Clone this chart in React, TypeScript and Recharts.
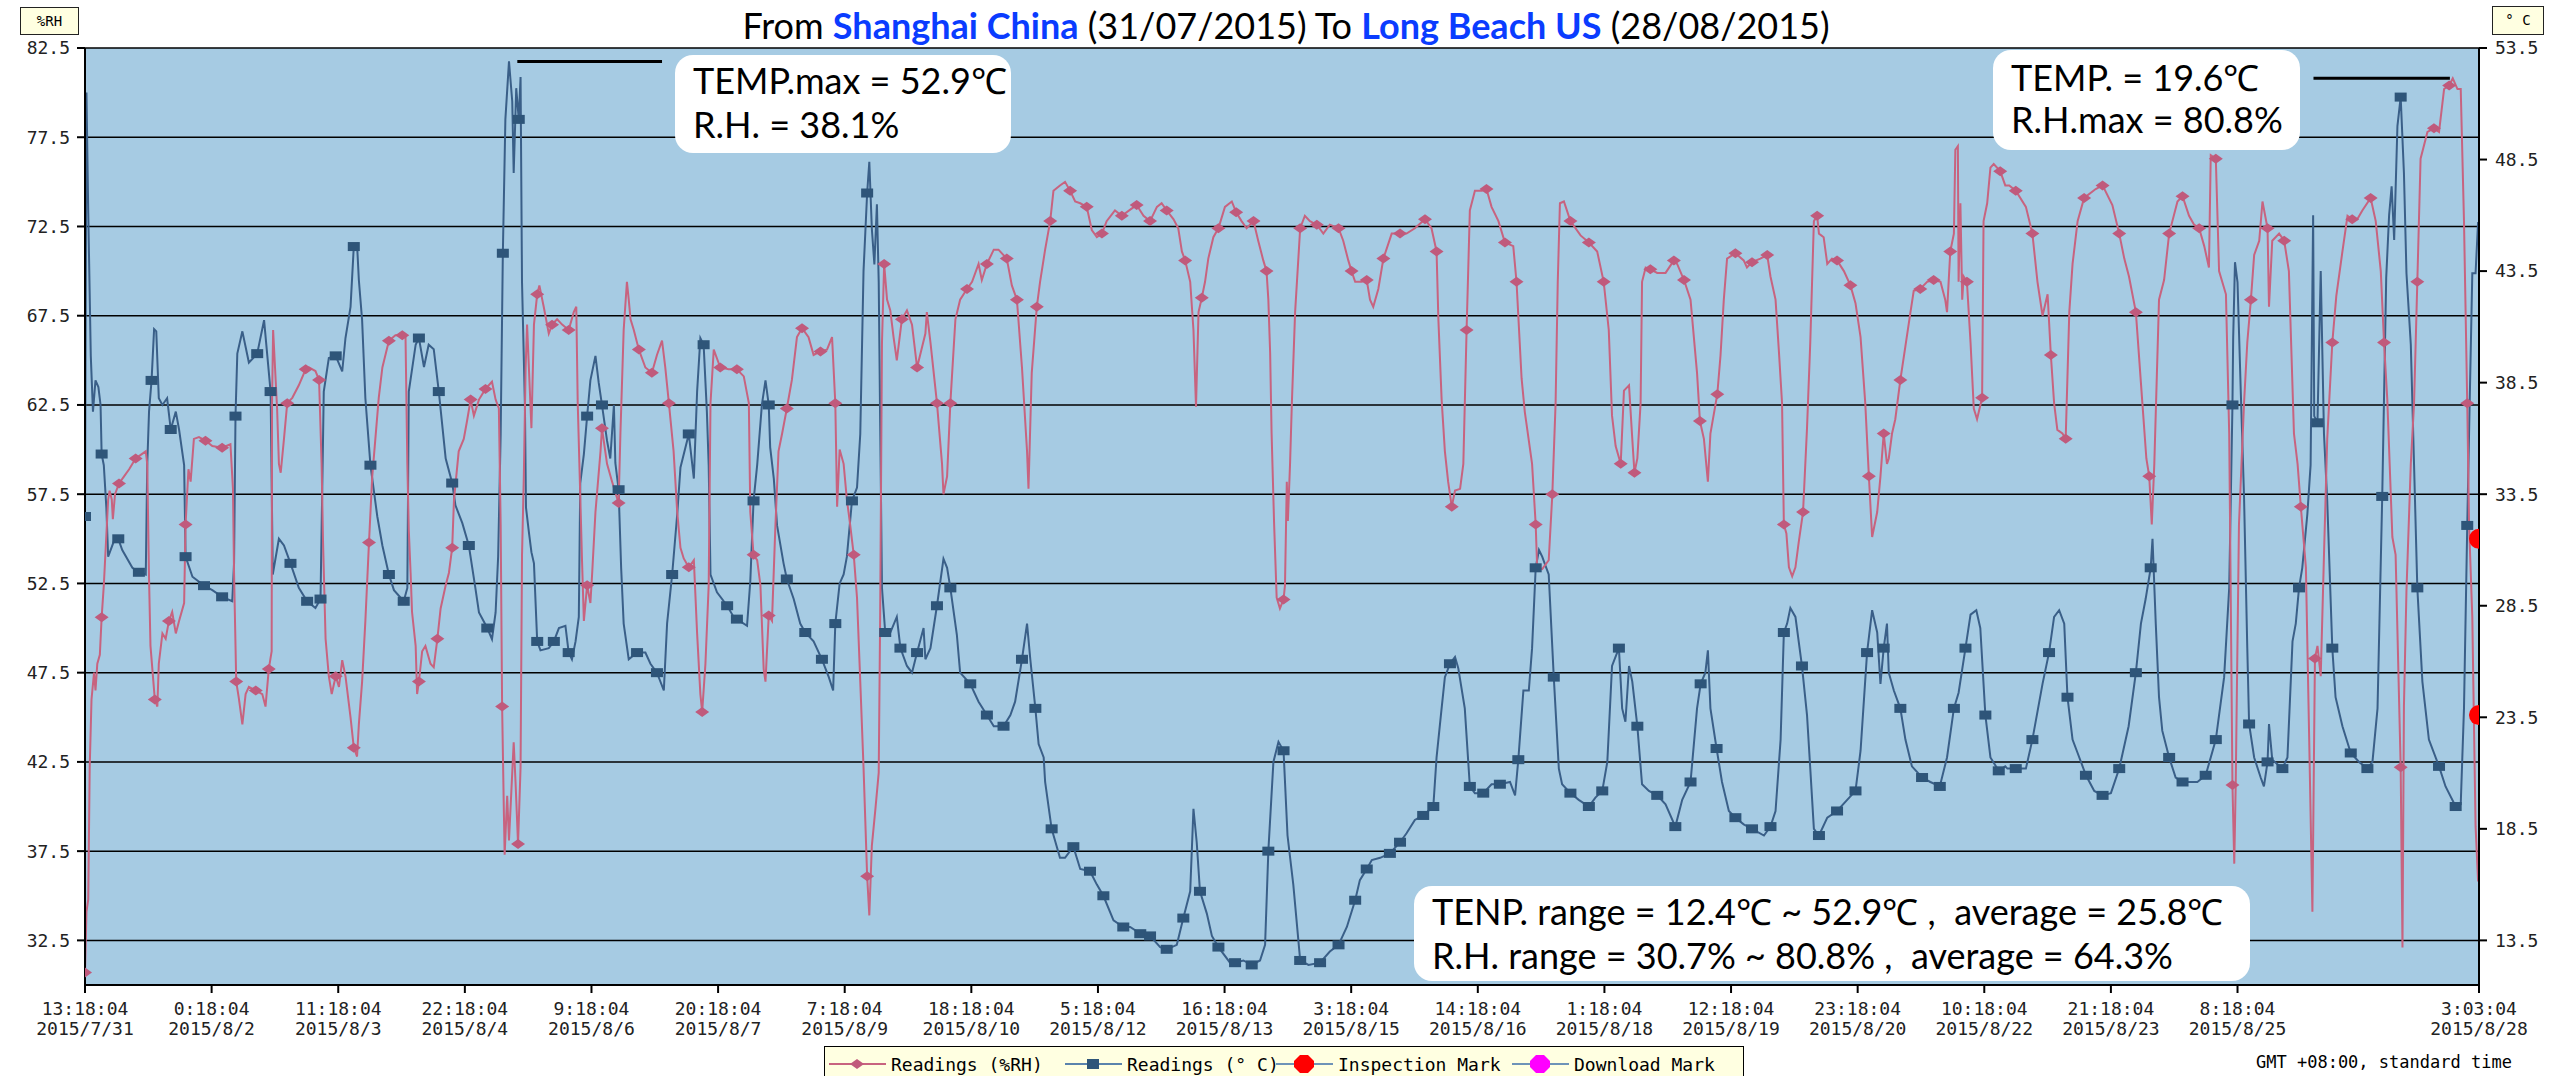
import React from "react";
import {
  ComposedChart,
  Line,
  XAxis,
  YAxis,
  CartesianGrid,
  ReferenceLine,
  Scatter,
} from "recharts";

// x axis: hours since 2015/7/31 13:18:04
const tickHours = [0, 35, 70, 105, 140, 175, 210, 245, 280, 315, 350, 385, 420, 455, 490, 525, 560, 595, 661.75];
const tickTimes = ["13:18:04", "0:18:04", "11:18:04", "22:18:04", "9:18:04", "20:18:04", "7:18:04", "18:18:04", "5:18:04", "16:18:04", "3:18:04", "14:18:04", "1:18:04", "12:18:04", "23:18:04", "10:18:04", "21:18:04", "8:18:04", "3:03:04"];
const tickDates = ["2015/7/31", "2015/8/2", "2015/8/3", "2015/8/4", "2015/8/6", "2015/8/7", "2015/8/9", "2015/8/10", "2015/8/12", "2015/8/13", "2015/8/15", "2015/8/16", "2015/8/18", "2015/8/19", "2015/8/20", "2015/8/22", "2015/8/23", "2015/8/25", "2015/8/28"];
const rhTicks = [82.5, 77.5, 72.5, 67.5, 62.5, 57.5, 52.5, 47.5, 42.5, 37.5, 32.5];
const tempTicks = [53.5, 48.5, 43.5, 38.5, 33.5, 28.5, 23.5, 18.5, 13.5];

const tempHours = [
  0, 0.4, 0.9, 1.6, 2.2, 2.9, 3.7, 4.3, 4.6, 5.2, 5.9, 6.4, 7.1, 8.0, 9.2, 10.3, 13.1, 14.9, 16.8, 17.2, 17.7, 18.4, 19.1, 19.7, 20.4, 21.4, 22.7, 23.7, 25.1, 26.0, 27.4, 27.8, 29.7, 32.9, 35.2, 37.9, 40.7, 41.2, 41.6, 42.1, 43.5, 45.3, 47.6, 49.5, 50.4, 51.3, 51.9, 53.6, 55.0, 56.8, 59.1, 61.4, 63.7, 65.1, 66.0, 67.4, 69.3, 71.1, 72.0, 73.4, 74.3, 75.2, 75.7, 76.6, 77.5, 78.9, 80.8, 82.2, 84.0, 85.4, 88.1, 89.1, 89.5, 91.4, 92.3, 93.7, 95.0, 96.4, 97.8, 99.7, 101.5, 102.4, 104.3, 106.1, 107.9, 108.9, 111.2, 112.5, 113.5, 114.2, 114.9, 115.5, 116.2, 117.2, 118.1, 118.5, 119.2, 119.9, 120.4, 120.8, 121.6, 121.9, 122.7, 123.4, 124.1, 125.0, 125.9, 128.2, 129.6, 131.0, 132.8,
  133.7, 134.6, 135.6, 136.5, 136.9, 137.9, 138.8, 139.7, 141.1, 142.0, 142.9, 144.3, 145.2, 146.2, 146.6, 147.5, 148.2, 148.9, 150.3, 152.6, 154.9, 156.3, 158.1, 160.0, 160.9, 162.3, 163.7, 164.6, 166.9, 168.3, 169.2, 170.1, 171.0, 171.9, 172.4, 172.9, 174.7, 177.5, 179.3, 180.2, 183.0, 183.9, 184.8, 185.8, 187.1, 188.1, 189.0, 189.4, 190.4, 191.3, 193.1, 194.0, 195.9, 197.7, 199.1, 201.4, 203.7, 205.6, 206.8, 207.4, 208.6, 209.7, 210.6, 212.0, 213.4, 214.3, 215.2, 216.2, 216.8, 217.5, 218.2, 218.9, 219.4, 219.8, 220.3, 221.2, 222.6, 224.4, 225.4, 227.2, 228.6, 230.0, 231.8, 232.3, 233.7, 235.5, 237.3, 238.3, 239.2, 241.0, 241.9, 244.7, 247.0, 249.3, 251.2, 253.9, 255.8, 257.1, 259.0, 260.4, 261.3, 262.7, 263.6, 265.0, 265.4,
  267.2, 269.5, 270.9, 273.2, 275.1, 277.8, 279.7, 281.5, 284.3, 287.0, 288.9, 291.7, 294.4, 297.2, 299.0, 301.8, 303.6, 305.5, 306.4, 307.3, 308.2, 310.1, 311.5, 313.3, 316.5, 317.9, 320.2, 322.5, 324.8, 326.2, 327.1, 328.5, 329.9, 331.3, 332.4, 334.0, 335.9, 338.2, 341.4, 344.1, 346.5, 348.8, 351.1, 352.4, 354.3, 355.7, 358.0, 360.7, 363.5, 365.3, 367.6, 369.9, 372.7, 373.6, 374.8, 375.9, 377.3, 378.7, 379.6, 381.4, 382.8, 384.2, 386.5, 388.8, 391.1, 393.9, 395.3, 396.2, 397.6,
  399.1, 400.0, 401.0, 401.9, 402.8, 403.7, 404.6, 406.0, 407.4, 408.3, 410.6, 412.9, 415.7, 417.5, 419.4, 420.8, 422.1, 424.0, 424.9, 425.8, 426.8, 427.7, 429.1, 430.4, 432.3, 434.6, 436.9, 439.6, 441.5, 443.8, 445.6, 446.6, 447.9, 448.6, 449.3, 451.0, 452.5, 454.4, 456.2, 458.5, 460.8, 464.1, 465.9, 467.3, 468.7, 469.6, 470.5, 471.4, 472.8, 474.6, 476.0, 476.9, 477.9, 479.3, 481.6, 484.3, 487.1, 489.4, 490.8, 492.6, 494.0, 495.4, 496.3, 497.2, 498.1, 498.6, 500.0, 501.8, 503.2, 505.0, 507.8, 510.1, 512.7, 514.7, 516.6, 517.9, 519.8, 521.2, 522.8, 523.9, 525.3, 526.7, 529.0, 530.8,
  531.4, 533.7, 536.5, 538.3, 541.1, 542.9, 544.3, 545.7, 547.1, 548.0, 549.4, 550.8, 553.1, 555.4, 557.7, 560.0, 562.3, 564.9, 566.9, 568.3, 569.6, 571.0, 571.5, 572.4, 573.3, 574.2, 576.1, 577.9, 579.8, 582.5, 583.9, 586.2, 589.0, 591.3, 592.7, 593.6, 593.8, 594.3, 595.0, 595.9, 596.8, 597.7, 598.2, 599.6, 601.4, 602.3, 603.3, 603.7, 604.6, 607.4, 608.8, 610.2, 611.1, 612.0, 612.9, 614.3, 615.2, 615.9, 616.2, 617.1, 618.0, 618.9, 619.8, 621.2, 622.1, 624.0, 626.3, 628.6, 630.9, 632.3, 633.7, 635.0, 636.1, 636.9, 637.6, 638.3, 639.2, 640.1, 641.0, 641.7, 642.9, 643.8, 644.7, 646.1, 647.9, 650.7, 652.5, 655.3, 656.7, 657.6, 658.5, 659.0, 659.9, 660.8, 661.5, 661.75,
];
const tempValues = [
  32.5, 51.5, 46.1, 39.7, 37.2, 38.6, 38.3, 37.5, 35.3, 34.8, 32.9, 30.7, 31.0, 31.4, 31.5, 31.0, 30.2, 30.0, 29.9, 34.8, 37.2, 38.6, 40.9, 40.8, 37.8, 37.5, 37.8, 36.4, 37.2, 36.4, 34.8, 30.7, 29.8, 29.4, 29.2, 28.9, 28.7, 30.4, 37.0, 39.8, 40.8, 39.4, 39.8, 41.3, 39.7, 38.1, 29.9, 31.5, 31.2, 30.4, 29.3, 28.7, 28.4, 28.8, 38.1, 39.6, 39.7, 39.0, 40.5, 41.9, 44.6, 44.7, 43.1, 41.3, 37.8, 34.8, 32.5, 31.2, 29.9, 29.2, 28.7, 29.3, 38.1, 40.2, 40.5, 39.2, 40.2, 40.0, 38.1, 35.1, 34.0, 33.0, 32.2, 31.2, 29.3, 28.2, 27.5, 27.0, 28.2, 30.7, 36.2, 44.3, 50.3, 52.9, 51.1, 47.9, 51.7, 50.3, 52.2, 43.0, 37.5, 32.9, 31.8, 30.9, 30.4, 26.9, 26.5, 26.6, 26.9, 27.5, 27.6,
  26.4, 26.1, 26.9, 28.0, 34.0, 35.3, 37.0, 38.6, 39.7, 38.5, 37.5, 35.9, 35.1, 37.5, 34.9, 33.7, 30.2, 27.7, 26.1, 26.4, 26.4, 25.9, 25.5, 24.7, 27.7, 29.9, 32.6, 34.7, 36.2, 34.2, 38.1, 40.5, 40.2, 37.2, 34.8, 29.9, 29.1, 28.5, 28.0, 27.9, 27.6, 29.6, 33.2, 34.8, 37.5, 38.6, 37.5, 35.6, 34.2, 32.1, 30.4, 29.7, 28.8, 27.7, 27.3, 26.9, 26.1, 25.3, 24.7, 27.7, 29.5, 29.9, 30.7, 33.2, 33.8, 36.2, 43.5, 47.0, 48.4, 45.4, 43.8, 46.5, 43.0, 36.7, 29.3, 27.3, 27.3, 28.0, 26.6, 25.8, 25.5, 26.4, 27.5, 26.1, 26.6, 28.5, 30.6, 30.2, 29.3, 27.2, 25.5, 25.0, 24.2, 23.6, 23.1, 23.1, 23.6, 24.2, 26.1, 27.7, 26.1, 23.9, 22.3, 21.7, 20.6,
  18.5, 17.2, 17.2, 17.7, 16.7, 16.6, 16.0, 15.5, 14.4, 14.1, 14.1, 13.8, 13.7, 13.2, 13.1, 13.3, 14.5, 15.7, 19.4, 17.9, 15.7, 14.7, 13.7, 13.2, 12.5, 12.5, 12.6, 12.4, 12.6, 13.3, 17.5, 21.5, 22.4, 22.0, 18.2, 16.0, 12.6, 12.4, 12.5, 13.0, 13.3, 14.1, 15.3, 16.2, 16.7, 17.1, 17.2, 17.4, 17.9, 18.3, 18.9, 19.1, 19.5, 21.7, 23.6, 25.3, 25.9, 26.2, 25.7, 23.9, 20.4, 20.1, 20.1, 20.5, 20.5, 20.6, 20.0, 21.6, 24.7,
  24.7, 26.6, 30.2, 31.0, 30.7, 30.3, 29.9, 25.3, 21.2, 20.5, 20.1, 19.8, 19.5, 19.9, 20.2, 21.5, 25.8, 26.6, 23.9, 23.3, 25.8, 25.1, 23.1, 20.5, 20.2, 20.0, 19.6, 18.6, 19.8, 20.6, 23.9, 25.0, 25.5, 26.5, 23.9, 22.1, 20.6, 19.3, 19.0, 18.7, 18.5, 18.2, 18.6, 19.3, 22.5, 27.3, 27.7, 28.4, 28.0, 25.8, 23.6, 21.2, 18.5, 18.2, 19.0, 19.3, 19.8, 20.2, 22.0, 26.4, 28.3, 27.3, 25.0, 26.6, 27.7, 25.5, 24.7, 23.9, 22.5, 21.3, 20.8, 20.6, 20.4, 21.7, 23.9, 24.6, 26.6, 28.1, 28.3, 27.5, 23.6, 21.7, 21.1, 21.3,
  21.2, 21.2, 21.2, 22.5, 25.0, 26.4, 28.0, 28.3, 27.7, 24.4, 22.5, 21.9, 20.9, 20.2, 20.0, 20.1, 21.2, 23.1, 25.5, 27.7, 28.8, 30.2, 31.5, 27.7, 24.4, 22.9, 21.7, 20.8, 20.6, 20.6, 20.6, 20.9, 22.5, 25.3, 29.3, 37.5, 40.5, 43.9, 43.0, 38.1, 33.4, 26.6, 23.2, 21.7, 20.8, 20.4, 21.5, 23.2, 21.6, 21.2, 21.7, 26.9, 27.7, 29.3, 30.2, 32.6, 34.8, 46.0, 37.0, 36.7, 43.5, 36.2, 33.2, 26.6, 24.4, 23.1, 21.9, 21.5, 21.2, 21.5, 23.9, 33.4, 43.2, 46.0, 47.3, 44.9, 50.0, 51.3, 47.9, 43.4, 40.2, 34.8, 29.3, 25.1, 22.5, 21.3, 20.4, 19.5, 19.6, 23.9, 32.1, 36.2, 43.4, 43.4, 45.7, 44.9,
];

const rhHours = [
  0, 0.4, 0.9, 1.3, 1.8, 2.5, 2.9, 3.4, 4.1, 4.6, 5.2, 5.7, 6.4, 6.8, 7.4, 7.7, 8.3, 9.4, 10.8, 12.2, 14.0, 15.4, 16.8, 17.2, 17.7, 18.1, 19.3, 20.0, 20.4, 21.4, 22.3, 23.2, 24.1, 25.1, 26.0, 27.4, 27.8, 28.6, 29.2, 30.1, 31.5, 33.3, 35.2, 37.9, 40.2, 40.9, 41.2, 41.8, 42.5, 43.5, 44.4, 45.3, 47.2, 49.0, 49.9, 50.8, 51.6, 51.7, 52.0, 53.1, 53.6, 54.1, 55.0, 55.9, 57.3, 59.1, 61.0, 61.9, 63.7, 64.7, 65.4, 65.8, 66.5, 67.4, 68.2, 69.3, 70.2, 71.1, 72.0, 73.4, 74.3, 75.2, 75.7, 76.6, 77.5, 78.5, 79.4, 81.2, 82.2, 84.0, 85.8, 87.7, 88.6, 89.1, 89.5, 90.0, 90.4, 91.4, 91.8, 92.3, 93.2, 94.1, 95.5, 96.4, 97.4, 98.3, 99.7, 100.6, 101.5, 102.0, 103.3, 104.7, 105.6, 106.6, 107.5, 108.9, 110.7, 112.5, 113.5, 114.4, 114.9, 115.3, 115.8, 116.0, 116.7, 117.2, 118.5, 119.0, 119.7, 120.4, 120.8, 121.3, 121.8, 122.2, 123.4, 124.1, 125.0, 125.6, 126.8, 128.2, 129.1, 130.5, 131.9, 133.7,
  135.1, 135.8, 136.2, 137.4, 137.9, 138.8, 139.7, 140.2, 141.1, 142.5, 142.9, 144.3, 145.7, 147.5, 148.0, 148.9, 149.8, 150.3, 150.8, 151.7, 153.1, 154.9, 156.7, 158.1, 159.5, 160.4, 161.4, 162.7, 163.7, 164.6, 165.5, 166.9, 168.3, 169.2, 170.1, 170.6, 171.5, 172.4, 172.9, 173.8, 175.6, 177.9, 180.2, 182.1, 183.5, 183.9, 184.8, 185.8, 186.7, 187.6, 188.1, 189.0, 189.9, 190.8, 191.7, 192.7, 194.0, 195.4, 196.8, 198.2, 200.0, 201.4, 203.3, 205.1, 206.5, 207.4, 207.9, 208.6, 209.7, 210.6, 211.5, 212.5, 213.4, 214.3, 215.2, 216.2, 216.8, 217.5, 218.5, 219.4, 219.8, 220.3, 220.9, 221.7, 222.6, 223.5, 224.4, 225.8, 227.2, 228.6, 230.0, 232.3, 232.7, 233.7, 235.5, 236.9, 237.3, 238.3, 239.2, 240.6, 241.9, 243.8, 245.2, 247.0, 247.9, 249.3, 251.2, 252.5, 254.8, 256.2, 257.6, 259.0, 260.4, 260.8, 261.7, 263.1, 264.0, 265.4,
  266.8, 267.7, 269.5, 270.9, 272.3, 273.7, 275.1, 276.9, 278.3, 279.7, 281.1, 282.4, 284.7, 286.6, 289.3, 290.7, 292.6, 294.4, 296.3, 297.6, 299.0, 300.9, 302.2, 303.2, 304.1, 305.5, 306.4, 307.1, 307.8, 308.7, 309.6, 310.5, 311.9, 313.3, 315.1, 317.0, 318.2, 319.7, 321.1, 323.0, 324.3, 325.7, 326.6, 327.1, 327.6, 328.0, 328.7, 329.4, 330.3, 331.3, 331.7, 332.2, 332.5, 333.1, 333.6, 334.5, 335.9, 337.2, 338.6, 340.5, 342.3, 344.1, 346.5, 347.8, 349.2, 350.1, 351.1, 352.9, 354.3, 355.2, 356.1, 357.5, 358.9, 361.2, 363.5, 365.3, 367.6, 370.4, 372.2, 373.6, 374.1, 375.0, 375.9, 376.8, 377.8, 378.7, 380.1, 381.0, 381.9, 382.8, 384.2, 386.1, 387.4, 388.8, 390.7, 392.5, 394.8, 395.7, 397.1, 398.0,
  400.0, 401.0, 401.4, 402.8, 404.6, 405.6, 406.5, 407.1, 407.7, 408.8, 410.6, 413.4, 415.7, 418.0, 419.8, 421.2, 422.1, 423.1, 424.5, 425.4, 426.8, 427.7, 428.3, 429.1, 430.0, 430.4, 431.4, 432.7, 434.6, 436.9, 439.2, 440.1, 442.0, 443.8, 445.6, 446.4, 447.5, 448.6, 449.3, 451.2, 452.1, 453.0, 453.9, 456.2, 458.5, 459.4, 460.8, 463.1, 465.0, 465.9, 467.3, 468.2, 469.1, 469.6, 470.3, 471.0, 471.9, 472.8, 473.7, 474.9, 476.0, 476.9, 477.9, 478.8, 479.3, 480.6, 481.6, 482.9, 484.3, 486.2, 488.0, 489.4, 490.8, 492.1, 493.1, 494.0, 495.4, 496.3, 497.2, 498.1, 498.6, 499.5, 500.4, 501.8, 503.2, 504.6, 505.5, 507.3, 509.2, 511.0, 512.9, 514.2, 514.7, 515.6, 516.6, 517.0, 517.7, 517.9, 518.4, 518.9, 519.3, 520.2, 521.2, 522.1, 523.0, 524.4, 524.8, 525.8, 526.7, 527.6, 529.4, 530.8,
  531.9, 533.7, 536.5, 538.3, 539.7, 541.1, 542.5, 543.4, 544.3, 545.2, 546.6, 547.5, 548.5, 549.4, 550.8, 552.6, 555.8, 557.7, 560.4, 562.3, 563.7, 565.0, 566.9, 568.7, 569.8, 570.6, 571.3, 572.0, 573.3, 574.7, 576.1, 578.4, 579.8, 581.6, 583.0, 584.4, 585.8, 587.1, 587.6, 589.0, 589.9, 591.8, 592.7, 593.1, 593.6, 594.1, 594.5, 595.4, 596.8, 597.7, 598.7, 599.6, 601.0, 601.9, 603.3, 603.7, 604.6, 606.5, 607.9, 609.2, 610.6, 611.6, 612.5, 613.9, 614.8, 615.7, 616.4, 617.1, 618.0, 618.9, 619.8, 621.2, 622.3, 624.0, 625.4, 626.7, 628.1, 629.5, 631.8, 633.2, 634.6, 635.5, 636.4, 637.8, 638.7, 640.1, 640.6, 641.0, 641.7, 642.9, 643.8, 644.7, 645.6, 647.5, 649.3, 650.7, 652.1, 653.5, 654.5, 655.8, 656.7, 657.6, 658.5, 659.0, 659.9, 660.8, 661.5,
];
const rhValues = [
  30.7, 34.1, 34.8, 42.2, 46.0, 47.5, 46.5, 48.0, 48.5, 50.6, 52.4, 54.4, 57.2, 57.7, 57.2, 56.1, 57.5, 58.1, 58.5, 58.9, 59.5, 59.7, 59.9, 59.2, 52.8, 49.0, 46.0, 45.6, 48.0, 49.7, 49.4, 50.4, 50.9, 49.7, 50.4, 51.4, 55.8, 58.9, 58.2, 60.6, 60.7, 60.5, 60.2, 60.1, 60.3, 57.8, 53.1, 47.0, 46.1, 44.6, 46.3, 46.7, 46.5, 46.3, 45.6, 47.7, 48.7, 62.6, 66.7, 62.3, 59.2, 58.7, 60.6, 62.6, 62.9, 63.6, 64.5, 64.6, 64.4, 63.9, 59.2, 54.8, 49.4, 47.3, 46.3, 47.3, 46.7, 48.2, 47.3, 45.0, 43.3, 42.8, 44.6, 47.0, 50.4, 54.8, 58.5, 62.9, 64.6, 66.1, 66.4, 66.4, 66.3, 59.2, 55.5, 53.1, 50.9, 49.0, 46.3, 47.0, 48.7, 49.0, 48.0, 47.8, 49.4, 51.1, 52.4, 53.1, 54.5, 57.2, 59.9, 60.6, 61.6, 62.8, 61.9, 62.8, 63.4, 63.8, 62.8, 62.3, 55.8, 45.6, 39.5, 37.3, 40.6, 38.1, 43.6, 41.4, 37.9, 42.2, 54.1, 58.5, 64.6, 67.0, 61.2, 67.0, 68.7, 69.2, 68.0, 66.5, 67.0, 67.3, 67.0, 66.7,
  67.7, 68.0, 62.6, 53.7, 50.4, 52.4, 51.4, 53.1, 56.5, 59.9, 61.2, 59.2, 58.2, 57.0, 60.9, 66.7, 69.4, 68.4, 67.3, 66.7, 65.6, 64.6, 64.3, 65.3, 66.1, 64.6, 62.6, 59.9, 56.5, 54.5, 53.9, 53.4, 53.8, 49.7, 46.3, 45.3, 48.0, 52.4, 62.6, 65.6, 64.6, 64.5, 64.5, 64.1, 62.6, 56.5, 54.1, 53.8, 52.4, 47.7, 47.0, 50.7, 50.4, 55.5, 59.9, 60.9, 62.3, 63.9, 66.3, 66.8, 66.3, 65.3, 65.5, 65.6, 66.3, 62.6, 56.8, 60.0, 59.2, 57.2, 55.8, 54.1, 51.7, 47.0, 42.2, 36.1, 33.9, 37.8, 39.9, 41.9, 50.7, 66.0, 70.4, 68.4, 67.8, 66.3, 65.0, 67.3, 67.8, 67.0, 64.6, 66.5, 67.7, 66.0, 62.6, 59.2, 57.5, 58.5, 62.6, 67.3, 68.4, 69.0, 69.4, 70.4, 69.5, 70.4, 71.2, 71.2, 70.7, 69.2, 68.4, 64.6, 59.9, 57.8, 64.3, 68.0, 69.4, 71.2,
  72.8, 74.5, 74.8, 75.0, 74.5, 73.9, 73.8, 73.6, 72.3, 71.9, 72.1, 72.8, 73.4, 73.1, 73.5, 73.7, 73.1, 72.8, 73.6, 73.8, 73.4, 72.9, 72.4, 71.1, 70.6, 69.4, 66.7, 62.4, 67.7, 68.5, 69.4, 70.7, 71.9, 72.4, 73.6, 73.9, 73.3, 72.8, 72.4, 72.8, 71.7, 70.6, 70.0, 68.4, 65.4, 60.9, 55.8, 51.7, 51.1, 51.6, 52.4, 58.2, 56.0, 59.2, 62.6, 67.7, 72.4, 73.1, 72.8, 72.6, 72.1, 72.6, 72.4, 71.7, 70.6, 70.0, 69.4, 69.4, 69.5, 68.4, 68.0, 69.0, 70.7, 72.1, 72.1, 72.1, 72.4, 72.9, 72.4, 71.1, 67.3, 62.8, 59.9, 58.2, 56.8, 57.7, 57.8, 59.2, 66.7, 73.4, 74.5, 74.5, 74.6, 73.6, 72.8, 71.6, 71.4, 69.4, 64.0, 62.1,
  59.2, 55.8, 53.4, 53.3, 53.8, 57.5, 62.6, 69.4, 73.8, 73.9, 72.8, 72.0, 71.6, 71.1, 69.4, 66.7, 61.9, 60.2, 59.2, 63.3, 63.6, 60.6, 58.7, 59.5, 62.6, 69.4, 70.2, 70.1, 69.9, 69.9, 70.6, 70.4, 69.5, 68.4, 64.3, 61.6, 60.6, 58.2, 60.9, 63.1, 65.3, 68.4, 70.7, 71.0, 70.6, 70.2, 70.5, 70.7, 70.9, 69.7, 68.4, 65.6, 62.6, 55.8, 55.3, 53.4, 52.9, 53.4, 54.8, 56.5, 61.2, 66.0, 72.8, 73.1, 72.1, 71.9, 70.4, 70.7, 70.6, 70.0, 69.2, 68.2, 66.3, 62.6, 58.5, 55.1, 56.5, 58.5, 60.9, 59.2, 59.5, 60.9, 61.7, 63.9, 65.8, 67.7, 68.9, 69.0, 69.4, 69.5, 69.4, 68.4, 67.7, 71.1, 72.1, 76.8, 77.0, 69.4, 73.8, 68.4, 69.7, 69.4, 66.0, 62.3, 61.7, 62.9, 72.8, 73.8, 75.8, 76.0, 75.6, 74.8,
  74.8, 74.5, 73.6, 72.1, 69.4, 67.5, 68.7, 65.3, 62.6, 61.1, 60.9, 60.6, 67.7, 70.4, 72.8, 74.1, 74.6, 74.8, 73.7, 72.1, 70.7, 69.7, 67.7, 62.6, 59.5, 58.5, 55.8, 59.2, 68.4, 69.5, 72.1, 73.9, 74.2, 73.1, 72.6, 72.4, 71.4, 70.2, 76.5, 76.3, 70.0, 68.7, 60.9, 52.4, 41.2, 36.8, 41.2, 55.8, 62.6, 66.0, 68.4, 70.9, 71.7, 73.9, 72.4, 68.0, 71.7, 72.1, 71.7, 70.0, 60.9, 59.2, 56.8, 53.4, 43.9, 34.1, 48.3, 49.0, 47.3, 54.1, 60.6, 66.0, 68.6, 71.1, 73.1, 72.9, 72.9, 73.4, 74.1, 72.8, 70.0, 66.0, 62.8, 55.1, 54.1, 42.2, 32.1, 45.6, 52.1, 59.2, 62.6, 69.4, 76.3, 77.8, 78.0, 77.8, 80.2, 80.4, 80.8, 80.2, 80.2, 72.8, 62.6, 55.8, 50.6, 38.9, 35.8,
];

const inspectionHours = [661.75, 661.75];
const inspectionTemps = [31.5, 23.6];

const tempData = tempHours.map((h, i) => ({ h, t: tempValues[i] }));
const rhData = rhHours.map((h, i) => ({ h, rh: rhValues[i] }));
const inspectionData = inspectionHours.map((h, i) => ({ h, t: inspectionTemps[i] }));

const MONO = "'DejaVu Sans Mono', monospace";
const SANS = "Lato, 'Open Sans', sans-serif";
const BLUE = "#3A5F88";
const PINK = "#C8637F";

// put a marker on the first reading of every ~4.6 h slot
function markIndexes(hours: number[]) {
  const s = new Set<number>();
  let last = -1;
  hours.forEach((h, i) => {
    const k = Math.floor(h / 4.6);
    if (k !== last) {
      s.add(i);
      last = k;
    }
  });
  return s;
}
const tempMarks = markIndexes(tempHours);
const rhMarks = markIndexes(rhHours);

const TempDot = (p: any) =>
  tempMarks.has(p.index) ? (
    <rect key={p.index} x={p.cx - 6} y={p.cy - 4.5} width={12} height={9} fill="#2E5579" />
  ) : (
    <g key={p.index} />
  );

const RhDot = (p: any) =>
  rhMarks.has(p.index) ? (
    <path
      key={p.index}
      d={`M${p.cx - 7},${p.cy}L${p.cx},${p.cy - 5}L${p.cx + 7},${p.cy}L${p.cx},${p.cy + 5}Z`}
      fill="#C05A7C"
    />
  ) : (
    <g key={p.index} />
  );

function XTick(props: any) {
  const { x, y, payload } = props;
  const i = tickHours.indexOf(payload.value);
  return (
    <g>
      <text x={x} y={y + 20} textAnchor="middle" fontSize={18} fontFamily={MONO} fill="#222">
        {tickTimes[i]}
      </text>
      <text x={x} y={y + 40} textAnchor="middle" fontSize={18} fontFamily={MONO} fill="#222">
        {tickDates[i]}
      </text>
    </g>
  );
}

const boxStyle: React.CSSProperties = {
  position: "absolute",
  background: "#fff",
  borderRadius: 18,
  fontFamily: SANS,
  fontSize: 36,
  color: "#000",
  whiteSpace: "pre",
  boxSizing: "border-box",
};

const unitBox: React.CSSProperties = {
  position: "absolute",
  background: "#FFFFE1",
  border: "1px solid #222",
  fontFamily: MONO,
  fontSize: 14,
  textAlign: "center",
  boxSizing: "border-box",
};

function LegendIcon({ color, line, shape }: { color: string; line: string; shape: string }) {
  return (
    <svg width={57} height={20} style={{ position: "absolute", top: 7 }}>
      <line x1={0} y1={10} x2={57} y2={10} stroke={line} strokeWidth={2} />
      {shape === "diamond" && <path d="M21,10L28,5L35,10L28,15Z" fill={color} />}
      {shape === "square" && <rect x={22} y={5} width={12} height={10} fill={color} />}
      {shape === "oct" && (
        <path d="M24,1L32,1L38,7L38,13L32,19L24,19L18,13L18,7Z" fill={color} />
      )}
    </svg>
  );
}

export default function App() {
  return (
    <div style={{ position: "relative", width: 2549, height: 1076, background: "#fff", overflow: "hidden" }}>
      <style>{"body{margin:0}"}</style>
      <ComposedChart width={2549} height={1076} margin={{ top: 48, right: 0, bottom: 41, left: 0 }}>
        <CartesianGrid yAxisId="rh" vertical={false} stroke="#000" strokeWidth={1.5} fill="#A6CBE3" fillOpacity={1} />
        <XAxis
          type="number"
          dataKey="h"
          domain={[0, 661.75]}
          ticks={tickHours}
          interval={0}
          allowDataOverflow
          height={50}
          tickSize={8}
          tick={<XTick />}
          axisLine={{ stroke: "#000", strokeWidth: 2 }}
          tickLine={{ stroke: "#000", strokeWidth: 2 }}
        />
        <YAxis
          yAxisId="rh"
          domain={[30, 82.5]}
          ticks={rhTicks}
          interval={0}
          allowDataOverflow
          width={85}
          tickSize={8}
          tickMargin={7}
          tickFormatter={(v: number) => v.toFixed(1)}
          tick={{ fill: "#222", fontSize: 18, fontFamily: MONO }}
          axisLine={{ stroke: "#000", strokeWidth: 2 }}
          tickLine={{ stroke: "#000", strokeWidth: 2 }}
        />
        <YAxis
          yAxisId="t"
          orientation="right"
          domain={[11.5, 53.5]}
          ticks={tempTicks}
          interval={0}
          allowDataOverflow
          width={70}
          tickSize={8}
          tickMargin={8}
          tickFormatter={(v: number) => v.toFixed(1)}
          tick={{ fill: "#222", fontSize: 18, fontFamily: MONO }}
          axisLine={{ stroke: "#000", strokeWidth: 2 }}
          tickLine={{ stroke: "#000", strokeWidth: 2 }}
        />
        <Line
          yAxisId="t"
          data={tempData}
          dataKey="t"
          type="linear"
          stroke={BLUE}
          strokeWidth={2}
          dot={TempDot}
          activeDot={false}
          isAnimationActive={false}
        />
        <Line
          yAxisId="rh"
          data={rhData}
          dataKey="rh"
          type="linear"
          stroke={PINK}
          strokeWidth={2}
          dot={RhDot}
          activeDot={false}
          isAnimationActive={false}
        />
        <ReferenceLine
          yAxisId="t"
          segment={[{ x: 119.5, y: 52.9 }, { x: 159.5, y: 52.9 }]}
          stroke="#000"
          strokeWidth={3}
        />
        <ReferenceLine
          yAxisId="rh"
          segment={[{ x: 616, y: 80.8 }, { x: 653.7, y: 80.8 }]}
          stroke="#000"
          strokeWidth={3}
        />
        <Scatter
          yAxisId="t"
          data={inspectionData}
          dataKey="t"
          fill="#FF0000"
          isAnimationActive={false}
          shape={(p: any) => <circle cx={p.cx} cy={p.cy} r={10} fill="#FF0000" />}
        />
      </ComposedChart>

      <div
        style={{
          position: "absolute",
          top: 6,
          left: 0,
          width: 2572,
          textAlign: "center",
          fontFamily: SANS,
          fontSize: 36,
          lineHeight: "38px",
          color: "#000",
          whiteSpace: "pre",
        }}
      >
        From <b style={{ color: "#0A3CFF" }}>Shanghai China</b> (31/07/2015) To{" "}
        <b style={{ color: "#0A3CFF" }}>Long Beach US</b> (28/08/2015)
      </div>

      <div style={{ ...unitBox, left: 20, top: 7, width: 59, height: 28, lineHeight: "26px" }}>%RH</div>
      <div style={{ ...unitBox, left: 2492, top: 6, width: 52, height: 29, lineHeight: "27px" }}>° C</div>

      <div style={{ ...boxStyle, left: 675, top: 55, width: 336, height: 98, padding: "3px 0 0 18px", lineHeight: "44px" }}>
        {"TEMP.max = 52.9℃\nR.H. = 38.1%"}
      </div>
      <div style={{ ...boxStyle, left: 1993, top: 50, width: 307, height: 100, padding: "6px 0 0 18px", lineHeight: "42px" }}>
        {"TEMP. = 19.6℃\nR.H.max = 80.8%"}
      </div>
      <div style={{ ...boxStyle, left: 1414, top: 886, width: 836, height: 95, padding: "3px 0 0 18px", lineHeight: "44px" }}>
        {"TENP. range = 12.4℃ ~ 52.9℃ ,  average = 25.8℃\nR.H. range = 30.7% ~ 80.8% ,  average = 64.3%"}
      </div>

      <div
        style={{
          position: "absolute",
          left: 824,
          top: 1046,
          width: 920,
          height: 40,
          background: "#FFFFE1",
          border: "1px solid #000",
          boxSizing: "border-box",
          fontFamily: MONO,
          fontSize: 18,
          color: "#000",
        }}
      >
        <div style={{ position: "absolute", left: 4 }}>
          <LegendIcon color="#C05A7C" line={PINK} shape="diamond" />
        </div>
        <div style={{ position: "absolute", left: 66, top: 7 }}>Readings (%RH)</div>
        <div style={{ position: "absolute", left: 240 }}>
          <LegendIcon color="#2E5579" line="#5A83AD" shape="square" />
        </div>
        <div style={{ position: "absolute", left: 302, top: 7 }}>Readings (° C)</div>
        <div style={{ position: "absolute", left: 451 }}>
          <LegendIcon color="#FF0000" line="#6E93B8" shape="oct" />
        </div>
        <div style={{ position: "absolute", left: 513, top: 7 }}>Inspection Mark</div>
        <div style={{ position: "absolute", left: 687 }}>
          <LegendIcon color="#FF00FF" line="#6E93B8" shape="oct" />
        </div>
        <div style={{ position: "absolute", left: 749, top: 7 }}>Download Mark</div>
      </div>

      <div
        style={{
          position: "absolute",
          left: 2256,
          top: 1052,
          fontFamily: MONO,
          fontSize: 17,
          color: "#000",
          whiteSpace: "pre",
        }}
      >
        GMT +08:00, standard time
      </div>
    </div>
  );
}
